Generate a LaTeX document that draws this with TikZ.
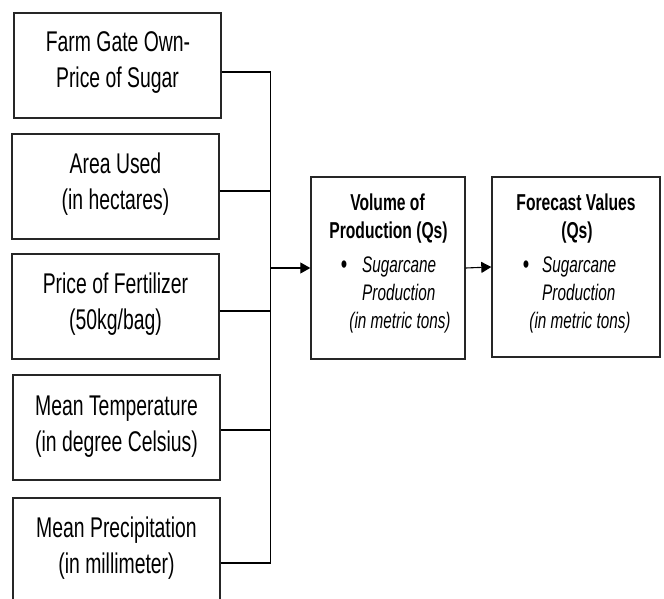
\documentclass[tikz,border=0pt]{standalone}
\usepackage{fontspec}
\usetikzlibrary{arrows.meta}
\newfontfamily\narrowfont[FakeStretch=0.68]{Liberation Sans}
\tikzset{
  box/.style={draw=black!85, line width=1.4pt, rectangle, inner sep=0pt},
  lbl/.style={font=\narrowfont\fontsize{28.5}{36}\selectfont, inner sep=0pt, anchor=base},
  ttl/.style={font=\narrowfont\bfseries\fontsize{23}{28}\selectfont, inner sep=0pt, anchor=base},
  itm/.style={font=\narrowfont\itshape\fontsize{22.5}{28}\selectfont, inner sep=0pt, anchor=base},
  bul/.style={font=\narrowfont\fontsize{27}{28}\selectfont, inner sep=0pt, anchor=base},
  conn/.style={draw=black, line width=1.1pt},
  arr/.style={conn, -{Triangle[length=10pt,width=11pt]}}
}
\begin{document}
\begin{tikzpicture}[x=1pt,y=-1pt]
\useasboundingbox (0,0) rectangle (664,599);
\clip (0,0) rectangle (664,599);
% input boxes
\node[box, minimum width=207pt, minimum height=105pt] (b1) at (117.5,65.5) {};
\node[box, minimum width=207pt, minimum height=105pt] (b2) at (115.5,186.5) {};
\node[box, minimum width=207pt, minimum height=105pt] (b3) at (115.5,306.5) {};
\node[box, minimum width=207pt, minimum height=105pt] (b4) at (116.5,427.5) {};
\node[box, minimum width=207pt, minimum height=105pt] (b5) at (116.5,550.5) {};
% input texts
\node[lbl] (t1a) at (118,52) {Farm Gate Own-};
\node[lbl] (t1b) at (117.5,88) {Price of Sugar};
\node[lbl] (t2a) at (115.5,173) {Area Used};
\node[lbl] (t2b) at (115.5,209) {(in hectares)};
\node[lbl] (t3a) at (115.5,293) {Price of Fertilizer};
\node[lbl] (t3b) at (115.5,329) {(50kg/bag)};
\node[lbl] (t4a) at (116.5,415) {Mean Temperature};
\node[lbl] (t4b) at (116.5,451) {(in degree Celsius)};
\node[lbl] (t5a) at (116.5,537) {Mean Precipitation};
\node[lbl] (t5b) at (116.5,573) {(in millimeter)};
% output boxes
\node[box, minimum width=154pt, minimum height=182pt] (vol) at (388,268) {};
\node[box, minimum width=168pt, minimum height=180pt] (fc) at (576,267) {};
% volume text
\node[ttl] (v1) at (387.5,210) {Volume of};
\node[ttl] (v2) at (388.5,238) {Production (Qs)};
\node[bul] (vb) at (344,273) {•};
\node[itm, anchor=base west] (v3) at (362,272) {Sugarcane};
\node[itm, anchor=base west] (v4) at (362,300) {Production};
\node[itm] (v5) at (400,328) {(in metric tons)};
% forecast text
\node[ttl] (f1) at (576,210) {Forecast Values};
\node[ttl] (f2) at (577,238) {(Qs)};
\node[bul] (fb) at (526,273) {•};
\node[itm, anchor=base west] (f3) at (542,272) {Sugarcane};
\node[itm, anchor=base west] (f4) at (542,300) {Production};
\node[itm] (f5) at (580,328) {(in metric tons)};
% connectors
\coordinate (j1) at (270.5,72);
\coordinate (j2) at (270.5,191);
\coordinate (j3) at (270.5,311);
\coordinate (j4) at (270.5,430);
\coordinate (j5) at (270.5,563);
\draw[conn] (j1) -- (j5);
\draw[conn] (b1.east |- j1) -- (j1);
\draw[conn] (b2.east |- j2) -- (j2);
\draw[conn] (b3.east |- j3) -- (j3);
\draw[conn] (b4.east |- j4) -- (j4);
\draw[conn] (b5.east |- j5) -- (j5);
\coordinate (jm) at (270.5,268);
\draw[arr] (jm) -- (vol.west);
\draw[arr] (vol.east) -- (fc.west);
\end{tikzpicture}
\end{document}
